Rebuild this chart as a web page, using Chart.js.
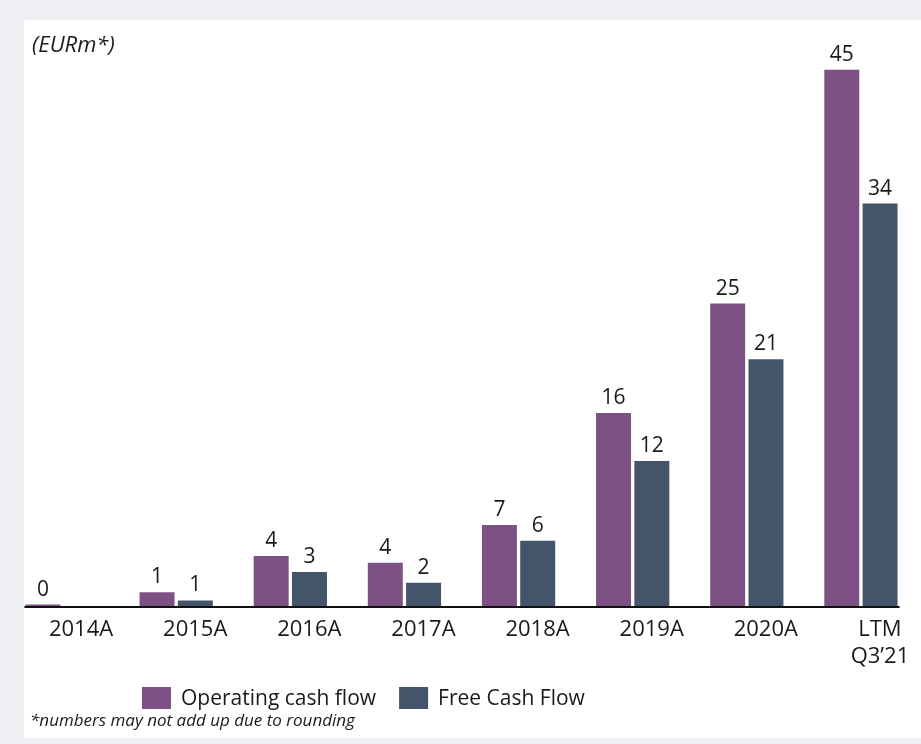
<!DOCTYPE html>
<html>
<head>
<meta charset="utf-8">
<script src="https://cdn.jsdelivr.net/npm/chart.js@4"></script>
<style>
  html, body { margin: 0; padding: 0; background: #eef0f4; }
  #wrap { width: 921px; height: 744px; }
</style>
</head>
<body>
<div id="wrap"><canvas id="cashChart" width="921" height="744"></canvas></div>
<script>
// categories and values (EURm)
var periodos = ['2014A', '2015A', '2016A', '2017A', '2018A', '2019A', '2020A', ['LTM', 'Q3\u201921']];
var flujoOperativo = [0.2, 1.23, 4.27, 3.71, 6.87, 16.26, 25.42, 45.0];
var flujoLibre = [null, 0.55, 2.93, 2.04, 5.55, 12.24, 20.76, 33.8];
var nombresSeries = ['Operating cash flow', 'Free Cash Flow'];
var coloresSeries = ['#7d5086', '#44546a'];

var fuente = '"Open Sans", "Noto Sans", sans-serif';
var colorTexto = '#1a1a1a';

// gray frame + white panel, caption texts, baseline, value labels, legend
const marco = {
  id: 'marco',
  beforeDraw(chart) {
    const ctx = chart.ctx;
    ctx.save();
    ctx.fillStyle = '#eef0f4';
    ctx.fillRect(0, 0, chart.width, chart.height);
    ctx.fillStyle = '#ffffff';
    ctx.fillRect(24, 20, chart.width - 24, 718);
    ctx.restore();
  },
  afterDraw(chart) {
    const ctx = chart.ctx;
    ctx.save();
    ctx.fillStyle = colorTexto;
    ctx.textBaseline = 'alphabetic';
    ctx.textAlign = 'left';
    ctx.font = 'italic 22px ' + fuente;
    ctx.fillText('(EURm*)', 32, 52);
    ctx.font = 'italic 17px ' + fuente;
    ctx.fillText('*numbers may not add up due to rounding', 30, 726);

    // baseline under the bars
    const m0 = chart.getDatasetMeta(0).data;
    const m1 = chart.getDatasetMeta(1).data;
    const izq = m0[0].x - m0[0].width / 2;
    const der = m1[m1.length - 1].x + m1[m1.length - 1].width / 2;
    const base = chart.scales.y.getPixelForValue(0);
    ctx.fillStyle = '#111111';
    ctx.fillRect(izq, base, der - izq + 1, 2);

    // value labels
    ctx.fillStyle = colorTexto;
    ctx.font = '21px ' + fuente;
    ctx.textAlign = 'center';
    chart.data.datasets.forEach(function(ds, i) {
      chart.getDatasetMeta(i).data.forEach(function(bar, j) {
        if (ds.data[j] == null) return;
        ctx.fillText(Math.round(ds.data[j]), bar.x, bar.y - 8);
      });
    });

    // legend
    let x = 142;
    ctx.textAlign = 'left';
    ctx.textBaseline = 'middle';
    chart.data.datasets.forEach(function(ds) {
      ctx.fillStyle = ds.backgroundColor;
      ctx.fillRect(x, 687, 29, 22);
      ctx.fillStyle = colorTexto;
      ctx.fillText(ds.label, x + 39, 699);
      x += 39 + ctx.measureText(ds.label).width + 23;
    });
    ctx.restore();
  }
};

const ctx = document.getElementById('cashChart');
const grafica = new Chart(ctx, {
  type: 'bar',
  data: {
    labels: periodos,
    datasets: [
      { label: nombresSeries[0], data: flujoOperativo, backgroundColor: coloresSeries[0] },
      { label: nombresSeries[1], data: flujoLibre, backgroundColor: coloresSeries[1] }
    ]
  },
  options: {
    responsive: false,
    animation: false,
    layout: { padding: { left: 5, right: 3, top: 33, bottom: 0 } },
    datasets: {
      bar: {
        categoryPercentage: 0.671,
        barPercentage: 0.966,
        borderWidth: 1,
        borderColor: 'rgba(255,255,255,0.45)'
      }
    },
    plugins: {
      legend: { display: false },
      tooltip: { enabled: false }
    },
    scales: {
      y: {
        display: false,
        min: 0,
        max: 48
      },
      x: {
        grid: { display: false, drawTicks: false },
        border: { display: false },
        ticks: {
          color: colorTexto,
          font: { family: fuente, size: 22, lineHeight: 1.23 },
          padding: 10,
          labelOffset: 19,
          maxRotation: 0,
          autoSkip: false
        },
        afterFit: function(scale) { scale.height = 138; }
      }
    }
  },
  plugins: [marco]
});
</script>
</body>
</html>
